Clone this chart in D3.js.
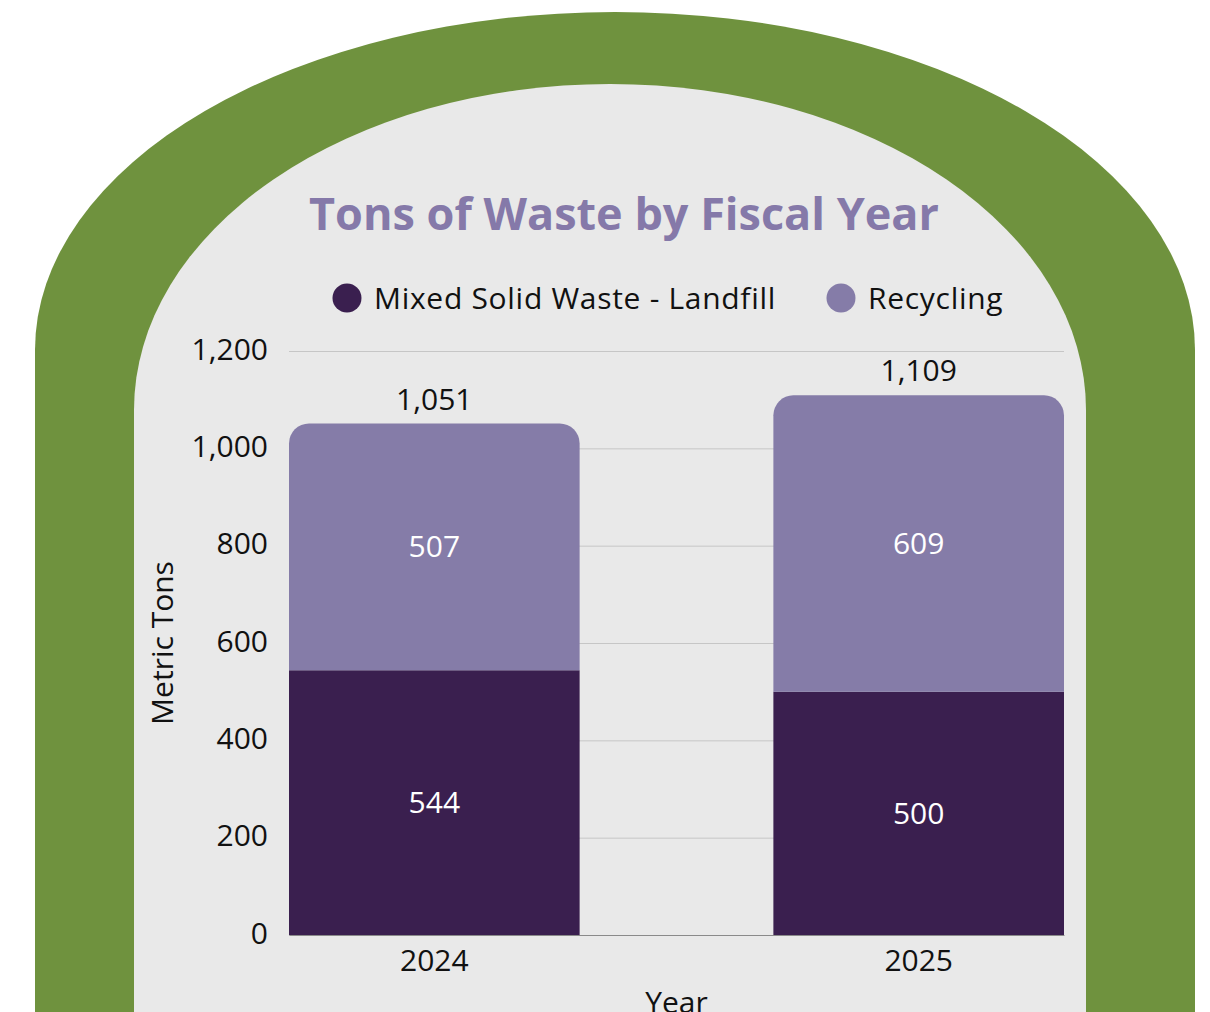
<!DOCTYPE html>
<html>
<head>
<meta charset="utf-8">
<script src="https://cdn.jsdelivr.net/npm/d3@7"></script>
<style>
  html, body { margin: 0; padding: 0; background: #ffffff; }
  svg { display: block; font-family: "Open Sans", "Noto Sans", sans-serif; }
</style>
</head>
<body>
<svg id="chart" width="1210" height="1012"></svg>
<script>
// Fiscal years on the x axis
const years = ["2024", "2025"];
// Series (stacked bottom to top)
const seriesKeys = ["landfill", "recycling"];
const seriesNames = ["Mixed Solid Waste - Landfill", "Recycling"];
const landfill = [544, 500];
const recycling = [507, 609];
// Y axis ticks
const yTicks = [0, 200, 400, 600, 800, 1000, 1200];

const colors = { landfill: "#3a1f4f", recycling: "#857ca8" };

const W = 1210, H = 1012;
const FS = 30; // body text size
const svg = d3.select("#chart");

// Arch frame: green outer band with grey panel inside
svg.append("path")
  .attr("d", `M35,${H + 10} L35,350 A580,338 0 0 1 1195,350 L1195,${H + 10} Z`)
  .attr("fill", "#6f923e");
svg.append("path")
  .attr("d", `M134,${H + 10} L134,410 A476,326 0 0 1 1086,410 L1086,${H + 10} Z`)
  .attr("fill", "#e9e9e9");

// Plot area
const plotL = 289, plotR = 1064, plotT = 351, plotB = 935;

const data = years.map((yr, i) => ({ year: yr, landfill: landfill[i], recycling: recycling[i] }));
const stacked = d3.stack().keys(seriesKeys)(data);

const x = d3.scaleBand().domain(years).range([plotL, plotR]).paddingInner(0.4).paddingOuter(0);
const y = d3.scaleLinear().domain([0, 1200]).range([plotB, plotT]);

// Title
svg.append("text")
  .attr("x", 624).attr("y", 230)
  .attr("text-anchor", "middle")
  .attr("font-size", 45).attr("font-weight", 700)
  .attr("fill", "#8579a9")
  .text("Tons of Waste by Fiscal Year");

// Legend
const legendX = [347, 841];
const legend = svg.append("g");
seriesKeys.forEach((k, i) => {
  const g = legend.append("g").attr("transform", `translate(${legendX[i]},298)`);
  g.append("circle").attr("r", 14.5).attr("fill", colors[k]);
  g.append("text").attr("x", 27).attr("dy", "0.35em")
    .attr("font-size", FS).attr("letter-spacing", 0.7).attr("fill", "#111")
    .text(seriesNames[i]);
});

// Grid lines
svg.append("g")
  .attr("transform", `translate(${plotL},0)`)
  .call(d3.axisLeft(y).tickValues(yTicks).tickSize(-(plotR - plotL)).tickFormat(""))
  .call(g => g.select(".domain").remove())
  .call(g => g.selectAll("line").attr("stroke", "#c6c6c6").attr("stroke-width", 1));

// Y axis labels
svg.append("g")
  .attr("transform", `translate(${plotL},0)`)
  .call(d3.axisLeft(y).tickValues(yTicks).tickSize(0).tickPadding(21).tickFormat(d3.format(",")))
  .call(g => g.select(".domain").remove())
  .call(g => g.selectAll("text")
    .attr("font-family", "Open Sans, sans-serif")
    .attr("dy", "0.27em")
    .attr("font-size", FS).attr("fill", "#111"));

// X axis baseline and labels
svg.append("g")
  .attr("transform", `translate(0,${plotB})`)
  .call(d3.axisBottom(x).tickSize(0).tickPadding(15))
  .call(g => g.select(".domain").attr("stroke", "#8a8a8a"))
  .call(g => g.selectAll("text")
    .attr("font-family", "Open Sans, sans-serif")
    .attr("font-size", FS).attr("fill", "#111"));

// Axis titles
svg.append("text")
  .attr("transform", `translate(173,${(plotT + plotB) / 2 + 0}) rotate(-90)`)
  .attr("text-anchor", "middle")
  .attr("font-size", FS).attr("fill", "#111")
  .text("Metric Tons");
svg.append("text")
  .attr("x", (plotL + plotR) / 2).attr("y", 1013)
  .attr("text-anchor", "middle")
  .attr("font-size", FS).attr("fill", "#111")
  .text("Year");

// Segment path with optional rounded top corners
function segPath(x0, x1, yTop, yBot, r) {
  const p = d3.path();
  if (r > 0) {
    p.moveTo(x0, yBot);
    p.lineTo(x0, yTop + r);
    p.arcTo(x0, yTop, x0 + r, yTop, r);
    p.lineTo(x1 - r, yTop);
    p.arcTo(x1, yTop, x1, yTop + r, r);
    p.lineTo(x1, yBot);
  } else {
    p.rect(x0, yTop, x1 - x0, yBot - yTop);
  }
  p.closePath();
  return p.toString();
}

const bars = svg.append("g");
stacked.forEach((layer, li) => {
  const isTop = li === stacked.length - 1;
  layer.forEach(d => {
    const x0 = x(d.data.year), x1 = x0 + x.bandwidth();
    bars.append("path")
      .attr("d", segPath(x0, x1, y(d[1]), y(d[0]), isTop ? 20 : 0))
      .attr("fill", colors[layer.key]);
    bars.append("text")
      .attr("x", x0 + x.bandwidth() / 2)
      .attr("y", (y(d[0]) + y(d[1])) / 2)
      .attr("dy", "0.35em")
      .attr("text-anchor", "middle")
      .attr("font-size", FS).attr("fill", "#ffffff")
      .text(d3.format(",")(d[1] - d[0]));
  });
});

// Totals above bars
data.forEach(d => {
  const total = d.landfill + d.recycling;
  svg.append("text")
    .attr("x", x(d.year) + x.bandwidth() / 2)
    .attr("y", y(total) - 14)
    .attr("text-anchor", "middle")
    .attr("font-size", FS).attr("fill", "#111")
    .text(d3.format(",")(total));
});
</script>
</body>
</html>
